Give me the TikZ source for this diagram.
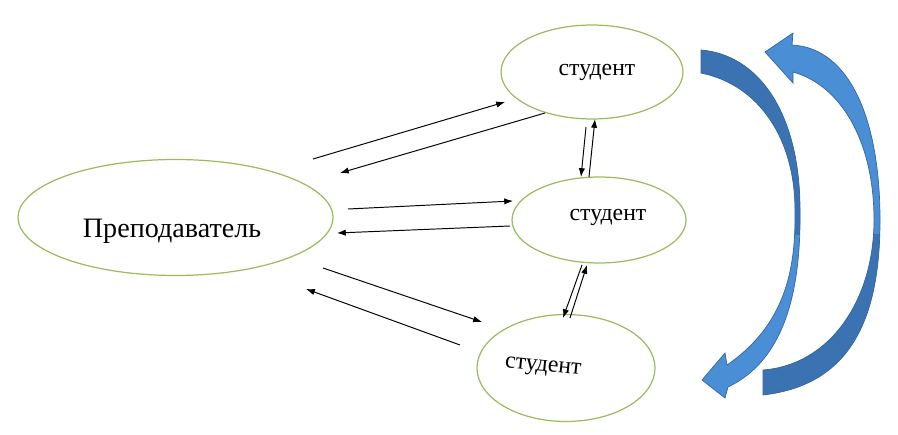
\documentclass[tikz,border=0pt]{standalone}
\usepackage{fontspec}
\setmainfont{Liberation Serif}
\usetikzlibrary{shapes.geometric,arrows.meta}
\definecolor{egreen}{HTML}{9CBB5E}
\definecolor{bdark}{HTML}{3B72B2}
\definecolor{blight}{HTML}{4A8ED6}
\definecolor{bedge}{HTML}{35679F}
\newcommand{\mypathL}{(701,50) .. controls (760,55) and (800,115) .. (800,210)
  .. controls (801,290) and (785,360) .. (728,387) -- (725,398) -- (702,380) -- (725,353) -- (727,365)
  .. controls (785,325) and (796,270) .. (795,210)
  .. controls (795,140) and (760,85) .. (701,73) -- cycle}
\newcommand{\mypathR}{(763,395) .. controls (850,385) and (880,320) .. (880,220)
  .. controls (880,120) and (850,48) .. (792,45) -- (793,33) -- (765,52) -- (793,83) -- (793,72)
  .. controls (840,85) and (874,140) .. (874,220)
  .. controls (874,300) and (830,365) .. (763,370) -- cycle}
\begin{document}
\begin{tikzpicture}[x=0.02cm,y=-0.02cm,
  oval/.style={ellipse,draw=egreen,line width=0.7pt,inner sep=0pt},
  lbl/.style={font=\fontsize{13.5}{16}\selectfont,inner sep=0pt},
  link/.style={line width=0.55pt,-{Latex[length=5pt,width=3.6pt]}}]
\useasboundingbox (0,0) rectangle (898,435);
% ellipses
\node[oval,minimum width=6.3cm,minimum height=2.32cm] (teacher) at (175.5,217.5) {};
\node[oval,minimum width=3.64cm,minimum height=1.88cm] (s1) at (592,72) {};
\node[oval,minimum width=3.48cm,minimum height=1.72cm] (s2) at (599,220) {};
\node[oval,minimum width=3.56cm,minimum height=2.14cm] (s3) at (566,368) {};
% labels
\node[lbl,font=\fontsize{16}{19}\selectfont] (tt) at (172,231) {Преподаватель};
\node[lbl] (t1) at (597,72) {студент};
\node[lbl] (t2) at (608,217) {студент};
\node[lbl,rotate=-6] (t3) at (543,368) {студент};
% connector ends
\coordinate (a1s) at (313,159); \coordinate (a1e) at (505,102);
\coordinate (a2s) at (545,113); \coordinate (a2e) at (340,173);
\coordinate (a3s) at (348,209); \coordinate (a3e) at (513,201);
\coordinate (a4s) at (510,226); \coordinate (a4e) at (337,233);
\coordinate (a5s) at (323,268); \coordinate (a5e) at (482,322);
\coordinate (a6s) at (460,345); \coordinate (a6e) at (306,289);
\coordinate (b1s) at (586,127); \coordinate (b1e) at (581,177);
\coordinate (b2s) at (589,177); \coordinate (b2e) at (595,119);
\coordinate (b3s) at (582,265); \coordinate (b3e) at (563,318);
\coordinate (b4s) at (570,318); \coordinate (b4e) at (587,265);
\draw[link] (a1s) -- (a1e);
\draw[link] (a2s) -- (a2e);
\draw[link] (a3s) -- (a3e);
\draw[link] (a4s) -- (a4e);
\draw[link] (a5s) -- (a5e);
\draw[link] (a6s) -- (a6e);
\draw[link] (b1s) -- (b1e);
\draw[link] (b2s) -- (b2e);
\draw[link] (b3s) -- (b3e);
\draw[link] (b4s) -- (b4e);
% blue curved arrows
\fill[blight] \mypathL;
\begin{scope}
  \clip (680,0) rectangle (820,235);
  \fill[bdark] \mypathL;
\end{scope}
\draw[bedge,line width=0.4pt] \mypathL;
\fill[blight] \mypathR;
\begin{scope}
  \clip (740,235) rectangle (898,435);
  \fill[bdark] \mypathR;
\end{scope}
\draw[bedge,line width=0.4pt] \mypathR;
\end{tikzpicture}
\end{document}
